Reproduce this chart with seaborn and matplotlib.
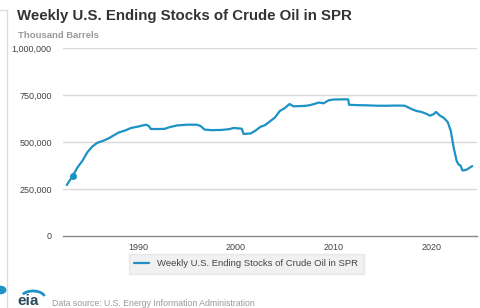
import numpy as np
import pandas as pd
import matplotlib
matplotlib.use("Agg")
import matplotlib.pyplot as plt
import matplotlib.patches as mpatches
import seaborn as sns

# weekly SPR stocks (thousand barrels)
years = [1982.7, 1983.3, 1983.8, 1984.3, 1984.8, 1985.3, 1985.8, 1986.5, 1987.0,
         1987.5, 1988.0, 1988.7, 1989.3, 1990.0, 1990.8, 1991.1, 1991.3, 1992.0,
         1992.7, 1993.3, 1994.0, 1995.0, 1996.0, 1996.4, 1996.8, 1997.5, 1998.5,
         1999.3, 1999.8, 2000.3, 2000.6, 2000.8, 2001.5, 2002.0, 2002.5, 2003.0,
         2003.5, 2004.0, 2004.5, 2005.0, 2005.5, 2005.9, 2006.5, 2007.0, 2007.5,
         2008.0, 2008.5, 2009.0, 2009.5, 2010.0, 2011.0, 2011.5, 2011.6, 2012.5,
         2013.5, 2014.5, 2015.5, 2016.5, 2017.3, 2018.0, 2018.5, 2019.0, 2019.5,
         2019.9, 2020.3, 2020.5, 2020.9, 2021.3, 2021.7, 2022.0, 2022.3, 2022.6,
         2022.8, 2023.0, 2023.2, 2023.6, 2024.2]
stocks = [271000, 319000, 365000, 400000, 445000, 475000, 495000, 508000, 520000,
          535000, 550000, 562000, 575000, 582000, 592000, 585000, 569000, 569000,
          570000, 580000, 588000, 592000, 592000, 585000, 566000, 563000, 564000,
          568000, 575000, 572000, 571000, 543000, 545000, 560000, 580000, 590000,
          610000, 630000, 665000, 680000, 702000, 690000, 691000, 692000, 695000,
          702000, 710000, 706000, 722000, 726000, 727000, 727000, 698000, 696000,
          695000, 693000, 693000, 694000, 693000, 675000, 665000, 660000, 650000,
          640000, 650000, 660000, 640000, 628000, 605000, 560000, 470000, 400000,
          380000, 375000, 348000, 352000, 372000]
year_ticks = [1990, 2000, 2010, 2020]
y_ticks = [0, 250000, 500000, 750000, 1000000]
y_labels = ["0", "250,000", "500,000", "750,000", "1,000,000"]

series_name = "Weekly U.S. Ending Stocks of Crude Oil in SPR"
df = pd.DataFrame({"year": years, "stocks": stocks})

line_col = "#1d92c4"

sns.set_style("white")
plt.rcParams["font.family"] = ["Liberation Sans", "DejaVu Sans"]

fig = plt.figure(figsize=(4.8, 3.08), dpi=100)
ax = fig.add_axes([0.131, 0.234, 0.863, 0.610])

sns.lineplot(data=df, x="year", y="stocks", color=line_col, linewidth=1.6,
             ax=ax, label=series_name, legend=False)
ax.plot(years[1], stocks[1], "o", color=line_col, markersize=4)

ax.set_xlim(1982.3, 2024.7)
ax.set_ylim(0, 1000000)
ax.set_xticks(year_ticks)
ax.set_xticklabels([str(y) for y in year_ticks], fontsize=6.5, color="#444444")
ax.set_yticks(y_ticks)
ax.set_yticklabels(y_labels, fontsize=6.5, color="#444444")
ax.tick_params(axis="x", length=3, color="#888888", pad=2)
ax.tick_params(axis="y", length=0, pad=8)
for v in y_ticks[1:]:
    ax.axhline(v, color="#d9d9d9", linewidth=1, zorder=0)
for s in ["top", "right", "left"]:
    ax.spines[s].set_visible(False)
ax.spines["bottom"].set_color("#888888")
ax.spines["bottom"].set_linewidth(1)
ax.set_xlabel("")
ax.set_ylabel("")

fig.text(17 / 480, 1 - 16 / 308, series_name, fontsize=10.8, fontweight="bold",
         color="#333333", va="center")
fig.text(18 / 480, 1 - 35 / 308, "Thousand Barrels", fontsize=6.8,
         fontweight="bold", color="#999999", va="center")

handle = plt.Line2D([], [], color=line_col, linewidth=1.6)
leg = fig.legend([handle], [series_name], loc="center",
                 bbox_to_anchor=(246 / 480, 1 - 264 / 308), fontsize=6.8,
                 frameon=True, fancybox=False, handlelength=1.6,
                 borderpad=0.6, labelcolor="#444444")
leg.get_frame().set_facecolor("#eeeeee")
leg.get_frame().set_edgecolor("#e4e4e4")

# left panel border
fig.add_artist(plt.Line2D([7 / 480, 7 / 480], [0, 1 - 10 / 308],
                          transform=fig.transFigure, color="#dddddd", lw=1))
fig.add_artist(plt.Line2D([0, 7 / 480], [1 - 10 / 308, 1 - 10 / 308],
                          transform=fig.transFigure, color="#dddddd", lw=1))
fig.add_artist(mpatches.Circle((0, 1 - 290 / 308), 0.012,
                               transform=fig.transFigure, color=line_col))

# eia logo + source
fig.text(17 / 480, 1 - 301 / 308, "eia", fontsize=11, fontweight="bold",
         color="#2b4a5c", va="center")
fig.add_artist(mpatches.Arc((33 / 480, 1 - 298 / 308), 24 / 480, 14 / 308,
                            theta1=15, theta2=150, transform=fig.transFigure,
                            color=line_col, lw=2))
fig.text(52 / 480, 1 - 303 / 308, "Data source: U.S. Energy Information Administration",
         fontsize=6.3, color="#999999", va="center")

fig.savefig("out.png", dpi=100)
